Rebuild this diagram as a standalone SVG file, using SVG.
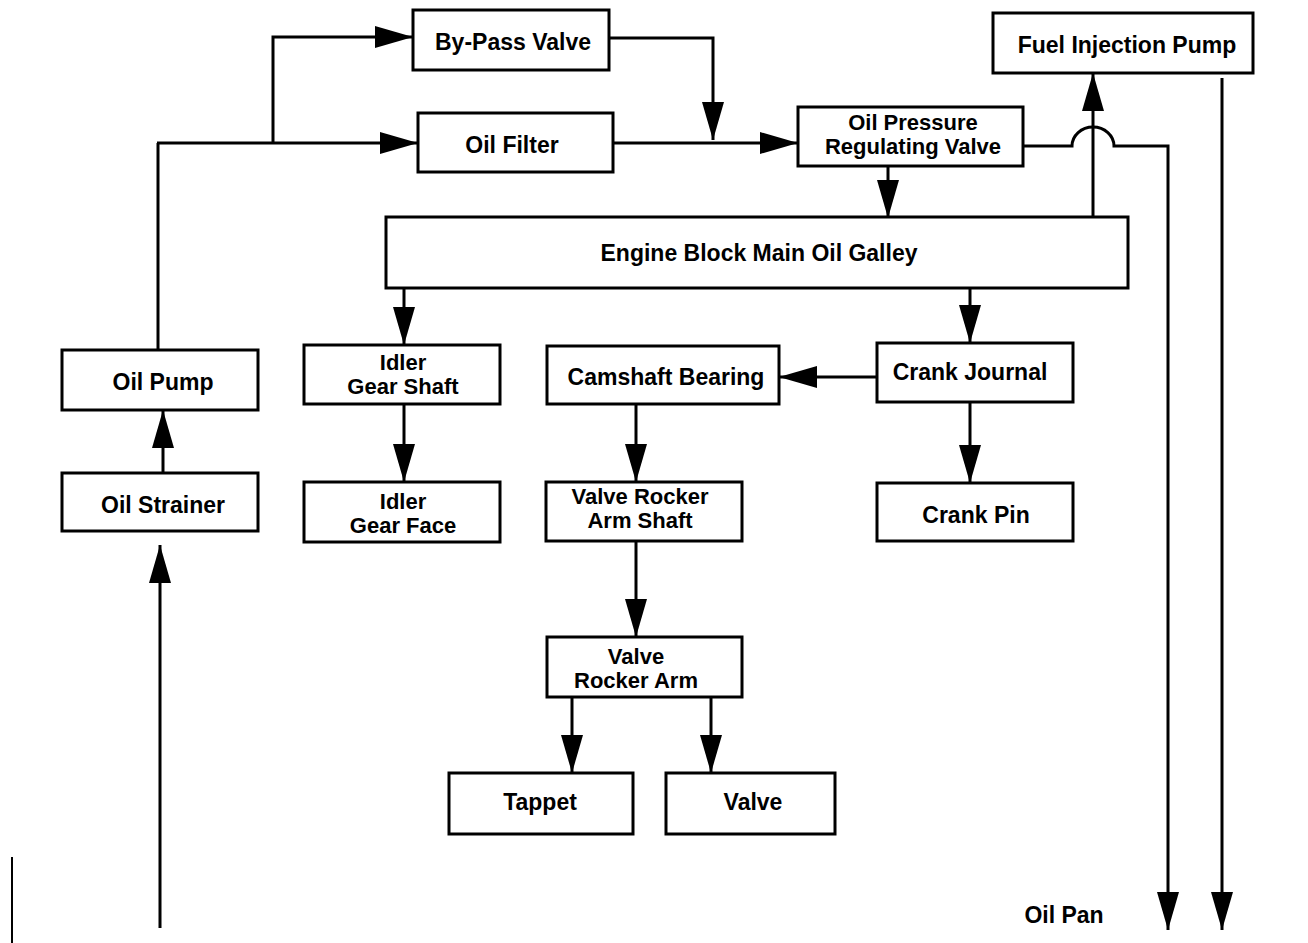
<svg xmlns="http://www.w3.org/2000/svg" width="1308" height="943" viewBox="0 0 1308 943">
<style>
.box{fill:#fff;stroke:#000;stroke-width:3}
.t{font-family:"Liberation Sans",Arial,Helvetica,sans-serif;font-weight:bold;font-size:23px;fill:#000;text-anchor:middle}
.t2{font-size:22px}
.c{fill:none;stroke:#000;stroke-width:3;marker-end:url(#ah)}
.n{fill:none;stroke:#000;stroke-width:3}
</style>
<defs>
<marker id="ah" markerUnits="userSpaceOnUse" markerWidth="40" markerHeight="22" refX="38" refY="11" orient="auto">
<path d="M0,0 L38,11 L0,22 z" fill="#000"/>
</marker>
</defs>
<rect width="1308" height="943" fill="#fff"/>
<g id="connectors">
<path class="n" d="M158,350 V143"/>
<path class="c" d="M157,143 H418"/>
<path class="c" d="M273,143 V37 H413"/>
<path class="c" d="M609,38 H713 V140"/>
<path class="c" d="M613,143 H798"/>
<path class="c" d="M888,166 V218"/>
<path class="c" d="M1023,146 H1072 A21,19 0 0 1 1114,146 H1168 V930"/>
<path class="c" d="M1093,217 V73"/>
<path class="c" d="M1222,78 V930"/>
<path class="c" d="M163,473 V410"/>
<path class="c" d="M160,928 V545"/>
<path class="c" d="M404,288 V345"/>
<path class="c" d="M970,288 V343"/>
<path class="c" d="M877,377 H779"/>
<path class="c" d="M404,404 V482"/>
<path class="c" d="M636,404 V482"/>
<path class="c" d="M970,402 V483"/>
<path class="c" d="M636,541 V637"/>
<path class="c" d="M572,697 V773"/>
<path class="c" d="M711,697 V773"/>
<path fill="none" stroke="#000" stroke-width="2" d="M12,857 V943"/>
</g>
<g id="bypass"><rect class="box" x="413" y="10" width="196" height="60"/><text class="t" x="513" y="50">By-Pass Valve</text></g>
<g id="oilfilter"><rect class="box" x="418" y="113" width="195" height="59"/><text class="t" x="512" y="153">Oil Filter</text></g>
<g id="fuelpump"><rect class="box" x="993" y="13" width="260" height="60"/><text class="t" x="1127" y="53">Fuel Injection Pump</text></g>
<g id="oprv"><rect class="box" x="798" y="107" width="225" height="59"/><text class="t t2" x="913" y="130">Oil Pressure</text><text class="t t2" x="913" y="154">Regulating Valve</text></g>
<g id="galley"><rect class="box" x="386" y="217" width="742" height="71"/><text class="t" x="759" y="261">Engine Block Main Oil Galley</text></g>
<g id="oilpump"><rect class="box" x="62" y="350" width="196" height="60"/><text class="t" x="163" y="390">Oil Pump</text></g>
<g id="idlershaft"><rect class="box" x="304" y="345" width="196" height="59"/><text class="t t2" x="403" y="370">Idler</text><text class="t t2" x="403" y="394">Gear Shaft</text></g>
<g id="camshaft"><rect class="box" x="547" y="346" width="232" height="58"/><text class="t" x="666" y="385">Camshaft Bearing</text></g>
<g id="crankjournal"><rect class="box" x="877" y="343" width="196" height="59"/><text class="t" x="970" y="380">Crank Journal</text></g>
<g id="oilstrainer"><rect class="box" x="62" y="473" width="196" height="58"/><text class="t" x="163" y="513">Oil Strainer</text></g>
<g id="idlerface"><rect class="box" x="304" y="482" width="196" height="60"/><text class="t t2" x="403" y="509">Idler</text><text class="t t2" x="403" y="533">Gear Face</text></g>
<g id="vras"><rect class="box" x="546" y="482" width="196" height="59"/><text class="t t2" x="640" y="504">Valve Rocker</text><text class="t t2" x="640" y="528">Arm Shaft</text></g>
<g id="crankpin"><rect class="box" x="877" y="483" width="196" height="58"/><text class="t" x="976" y="523">Crank Pin</text></g>
<g id="vra"><rect class="box" x="547" y="637" width="195" height="60"/><text class="t t2" x="636" y="664">Valve</text><text class="t t2" x="636" y="688">Rocker Arm</text></g>
<g id="tappet"><rect class="box" x="449" y="773" width="184" height="61"/><text class="t" x="540" y="810">Tappet</text></g>
<g id="valve"><rect class="box" x="666" y="773" width="169" height="61"/><text class="t" x="753" y="810">Valve</text></g>
<g id="oilpan"><text class="t" x="1064" y="923">Oil Pan</text></g>
</svg>
